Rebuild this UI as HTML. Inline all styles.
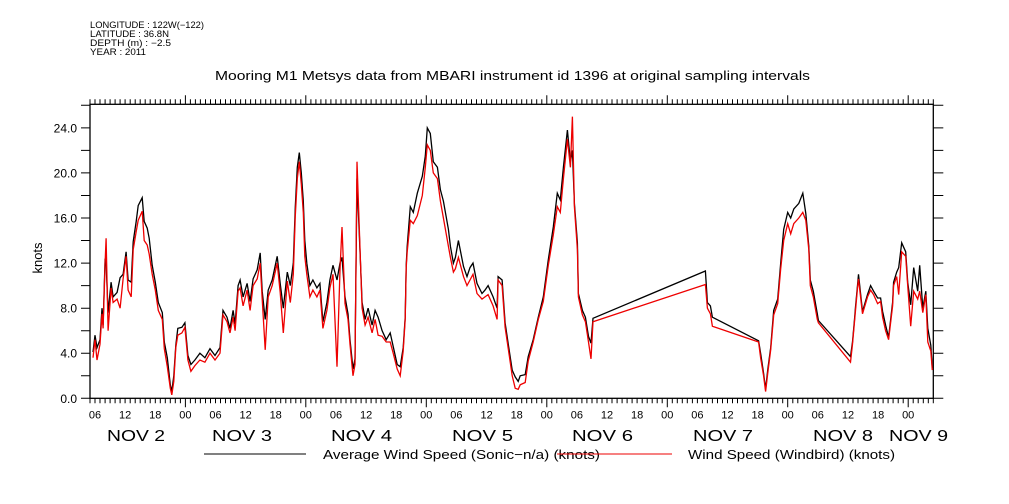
<!DOCTYPE html>
<html><head><meta charset="utf-8"><style>
html,body{margin:0;padding:0;background:#fff;}
svg{display:block;font-family:"Liberation Sans",sans-serif;}
</style></head><body>
<svg id="chart" width="1009" height="504" viewBox="0 0 1009 504" xmlns="http://www.w3.org/2000/svg">
<g font-size="9" fill="#000">
<text x="90" y="28" textLength="114" lengthAdjust="spacingAndGlyphs">LONGITUDE : 122W(−122)</text>
<text x="90" y="37" textLength="79" lengthAdjust="spacingAndGlyphs">LATITUDE : 36.8N</text>
<text x="90" y="46" textLength="81" lengthAdjust="spacingAndGlyphs">DEPTH (m) : −2.5</text>
<text x="90" y="55" textLength="56" lengthAdjust="spacingAndGlyphs">YEAR : 2011</text>
</g>
<text x="215" y="80" textLength="595" lengthAdjust="spacingAndGlyphs" font-size="13">Mooring M1 Metsys data from MBARI instrument id 1396 at original sampling intervals</text>
<g id="axes"></g>
<g id="series"></g>
<text transform="translate(42,258) rotate(-90)" text-anchor="middle" font-size="13">knots</text>
<g font-size="16">
<text x="107" y="441" textLength="58" lengthAdjust="spacingAndGlyphs">NOV   2</text>
<text x="212" y="441" textLength="60" lengthAdjust="spacingAndGlyphs">NOV   3</text>
<text x="331" y="441" textLength="61" lengthAdjust="spacingAndGlyphs">NOV   4</text>
<text x="452" y="441" textLength="61" lengthAdjust="spacingAndGlyphs">NOV   5</text>
<text x="572" y="441" textLength="61" lengthAdjust="spacingAndGlyphs">NOV   6</text>
<text x="693" y="441" textLength="60" lengthAdjust="spacingAndGlyphs">NOV   7</text>
<text x="813" y="441" textLength="60" lengthAdjust="spacingAndGlyphs">NOV   8</text>
<text x="889" y="441" textLength="59" lengthAdjust="spacingAndGlyphs">NOV   9</text>
</g>
<g font-size="13">
<line x1="204" y1="454" x2="306" y2="454" stroke="#000" stroke-width="1"/>
<text x="323" y="459" textLength="277" lengthAdjust="spacingAndGlyphs">Average Wind Speed (Sonic−n/a) (knots)</text>
<line x1="557" y1="454" x2="672" y2="454" stroke="#e00" stroke-width="1"/>
<text x="688" y="459" textLength="207" lengthAdjust="spacingAndGlyphs">Wind Speed (Windbird) (knots)</text>
</g>
</svg>
<script>
const hours=[5.6,6.0,6.4,7.0,7.4,7.6,8.0,8.2,8.6,9.2,9.6,10.4,11.0,11.6,12.2,12.6,13.2,13.6,14.2,14.6,15.4,15.8,16.4,16.8,17.4,18.0,18.6,19.4,19.8,20.4,21.0,21.3,21.7,22.1,22.5,23.3,23.9,24.5,25.1,25.9,26.9,27.9,28.9,29.9,30.9,31.5,32.3,32.9,33.5,33.9,34.5,34.9,35.5,36.3,36.9,37.5,38.3,38.9,39.3,39.9,40.5,41.3,42.3,42.9,43.5,44.3,44.9,45.5,45.9,46.3,46.7,47.1,47.5,47.8,48.2,48.8,49.4,50.2,50.8,51.4,52.2,52.8,53.4,54.2,54.8,55.2,55.8,56.4,56.8,57.4,57.8,58.2,58.6,59.2,59.8,60.4,61.2,61.8,62.4,63.2,64.0,64.8,65.4,66.2,66.8,67.4,67.8,68.0,68.2,68.8,69.4,70.2,71.2,71.8,72.2,72.8,73.4,74.2,74.8,75.4,76.4,76.8,77.4,77.8,78.4,79.4,80.1,80.7,81.3,82.1,83.1,83.7,84.3,85.3,86.1,86.3,87.1,87.7,88.3,89.1,89.7,90.3,90.7,91.7,92.3,93.3,94.3,95.3,96.3,97.3,98.1,98.7,99.3,100.1,100.7,101.1,101.5,102.1,102.3,103.1,103.7,104.3,104.8,105.2,127.6,128.0,128.6,129.0,138.2,138.6,139.2,139.6,140.0,140.6,141.2,142.0,142.6,143.2,144.0,144.6,145.2,146.2,147.0,147.6,148.2,148.5,149.1,149.9,150.1,156.5,156.9,157.3,157.5,157.9,158.1,158.9,159.9,160.5,161.1,161.9,162.5,162.9,163.5,164.1,164.9,165.1,165.7,166.1,166.7,167.5,167.9,168.5,169.1,169.9,170.3,170.9,171.5,171.9,172.5,172.8];
const sonicValues=[4.1,5.6,4.5,5.2,8.0,6.5,12.4,12.0,7.6,10.3,9.0,9.4,10.7,11.0,13.0,10.5,10.3,13.9,15.7,17.1,17.8,15.7,15.1,14.2,11.8,10.3,8.5,7.6,5.0,3.6,1.2,0.6,2.0,4.7,6.2,6.3,6.7,3.8,3.0,3.4,4.0,3.6,4.4,3.8,4.5,7.8,7.2,6.2,7.8,6.6,10.0,10.5,9.0,10.2,8.6,10.6,11.4,12.9,9.5,7.0,9.6,10.5,12.6,10.2,8.0,11.2,10.0,12.0,17.0,20.5,21.8,20.0,17.5,14.0,12.0,10.0,10.5,9.8,10.2,6.8,8.5,10.5,11.8,10.5,12.0,12.5,9.0,7.5,5.2,2.6,3.5,19.5,15.0,8.5,7.0,8.0,6.5,7.8,7.2,6.0,5.2,5.8,4.6,3.0,2.8,4.5,7.2,11.8,13.5,17.0,16.5,18.2,19.7,21.5,24.0,23.5,21.0,20.5,18.5,17.5,15.0,13.5,12.0,12.5,14.0,11.7,10.8,11.6,12.0,10.2,9.3,9.6,10.0,9.0,8.0,10.8,10.5,6.7,4.9,2.5,1.9,1.5,2.0,2.1,3.7,5.2,7.2,9.0,12.3,15.2,18.2,17.6,20.5,23.8,21.0,22.0,17.3,13.8,9.3,7.8,7.2,5.5,4.9,7.1,11.3,8.5,8.2,7.2,5.1,4.0,2.2,0.8,2.5,4.5,7.8,8.8,12.0,15.0,16.5,16.0,16.8,17.3,18.2,16.4,13.5,10.5,9.5,7.5,6.9,3.7,5.0,7.0,8.1,10.0,11.0,7.7,9.2,10.0,9.5,8.9,8.9,7.7,6.5,5.4,8.5,10.3,11.2,11.6,13.8,13.0,10.3,8.3,11.6,9.5,11.8,8.0,9.5,6.2,4.7,2.7];
const windbirdValues=[3.6,5.2,3.4,4.8,7.5,6.2,12.0,14.2,6.0,9.8,8.5,8.8,8.0,10.6,12.6,9.6,9.0,13.2,14.8,15.8,16.6,14.0,13.6,12.8,11.0,9.6,7.8,7.0,4.4,2.8,0.9,0.3,1.5,4.5,5.6,5.8,6.3,3.4,2.4,2.9,3.4,3.2,4.0,3.4,4.0,7.4,6.8,5.8,7.2,6.0,9.5,9.8,8.2,9.6,7.8,10.0,10.6,12.0,8.8,4.3,9.0,10.0,12.0,9.4,5.8,10.4,8.5,11.0,16.2,19.5,21.0,19.0,16.5,12.6,11.0,9.0,9.6,9.0,9.6,6.2,7.8,9.8,11.0,2.8,11.4,15.2,8.4,7.0,4.8,2.0,3.0,21.0,15.6,8.0,6.5,7.2,5.8,7.0,5.6,5.5,5.0,5.0,4.0,2.6,2.0,4.2,7.0,11.6,13.0,15.8,15.5,16.2,18.0,20.5,22.5,22.0,20.0,19.5,17.5,16.0,13.5,12.5,11.2,11.5,12.5,10.8,10.0,10.5,11.0,9.3,8.8,9.0,9.2,8.2,7.0,10.5,10.0,6.3,4.5,2.0,0.9,0.8,1.2,1.4,3.3,5.0,7.0,8.6,11.8,14.5,17.0,16.5,19.5,23.0,20.5,25.0,17.0,13.2,9.0,7.4,6.8,5.0,3.5,6.8,10.1,8.0,7.5,6.4,5.0,3.6,2.0,0.6,2.2,4.3,7.4,8.4,11.5,14.0,15.5,14.6,15.5,16.0,16.5,15.8,13.2,10.0,9.0,7.0,6.7,3.2,4.8,6.8,7.8,9.8,10.6,7.5,9.0,9.6,9.2,8.4,8.6,7.2,6.0,5.2,8.2,10.0,10.8,9.2,13.0,12.6,10.0,6.4,9.5,8.8,9.5,7.6,9.2,5.0,4.2,2.5];
const yTickValues=[0,4,8,12,16,20,24];
const yTickLabels=["0.0","4.0","8.0","12.0","16.0","20.0","24.0"];
const xTickLabels=["00","06","12","18"];

const NS="http://www.w3.org/2000/svg";
const X0=90,X1=933.3,Y0=398.3,Y1=104.3,H0=5,H1=173,V1=26.09;
function xScale(h){return X0+(h-H0)*(X1-X0)/(H1-H0);}
function yScale(v){return Y0-v*(Y0-Y1)/V1;}
function mk(tag,attrs,parent){const e=document.createElementNS(NS,tag);for(const k in attrs)e.setAttribute(k,attrs[k]);parent.appendChild(e);return e;}
const axes=document.getElementById('axes');
const frame=mk('rect',{x:X0,y:Y1,width:X1-X0,height:Y0-Y1,fill:'none',stroke:'#000','stroke-width':1.3},axes);


let tp='';
for(let h=H0;h<=H1;h++){const x=xScale(h).toFixed(1);const major=(h%24===0);const L=major?9:5;
tp+=`M${x} ${Y0}V${Y0+L}M${x} ${Y1}V${Y1-L}`;
if(h%6===0){const t=mk('text',{x:x,y:Y0+20,'text-anchor':'middle','font-size':11},axes);t.textContent=xTickLabels[(h%24)/6];

}}
for(let v=0;v<=26;v+=2){const y=yScale(v).toFixed(1);tp+=`M${X0} ${y}H${X0-9}M${X1} ${y}H${X1+10}`;}
const ticks=mk('path',{d:tp,stroke:'#000','stroke-width':1,fill:'none'},axes);


yTickValues.forEach((v,i)=>{const t=mk('text',{x:X0-13,y:yScale(v)+4.5,'text-anchor':'end','font-size':12},axes);t.textContent=yTickLabels[i];

});
const series=document.getElementById('series');
function line(vals,color,name){const d=vals.map((v,i)=>(i?'L':'M')+xScale(hours[i]).toFixed(1)+' '+yScale(v).toFixed(1)).join('');
const p=mk('path',{d:d,stroke:color,'stroke-width':1.3,fill:'none','stroke-linejoin':'miter'},series);

}
line(sonicValues,'#000','series-sonic-line');
line(windbirdValues,'#e00','series-windbird-line');
</script>
</body></html>
